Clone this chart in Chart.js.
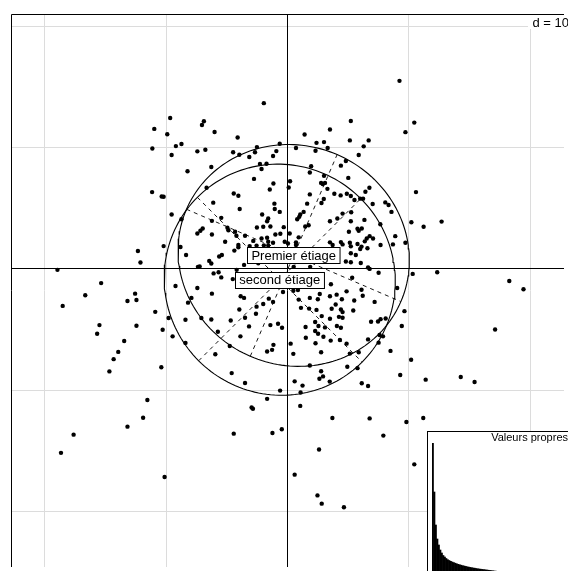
<!DOCTYPE html>
<html>
<head>
<meta charset="utf-8">
<title>Analyse inter-classes : étiages</title>
<script src="https://cdn.jsdelivr.net/npm/chart.js@4.4.1/dist/chart.umd.min.js"></script>
<style>
  html, body { margin: 0; padding: 0; background: #fff; overflow: hidden; }
  #wrap { position: relative; width: 568px; height: 571px; overflow: hidden; }
  #main { position: absolute; left: 0; top: 0; }
  #eig { position: absolute; left: 427px; top: 431px; }
</style>
</head>
<body>
<div id="wrap">
  <canvas id="main" width="568" height="571"></canvas>
  <canvas id="eig" width="145" height="148"></canvas>
</div>
<script>
// row scores on the first factorial plane
const scoreX = [
  -1.91, -9.63, -6.85, -7.01, -10.94, -5.97, -9.87, -4.07, -8.70, -9.16,
  -11.10, -7.39, -6.73, -9.51, -4.44, -3.93, -3.11, -2.64, -2.48, -0.88,
  -1.15, -0.60, -2.23, -2.10, -1.69, -8.20, -6.24, -2.72, -1.12, -1.42,
  -6.63, -11.12, -10.33, -10.17, -4.39, -4.01, -1.04, -1.01, -0.60, -6.08,
  -3.90, -9.51, -8.70, -5.42, -6.19, -2.05, -1.55, -1.64, -2.48, -1.96,
  -1.37, -0.27, -4.91, -4.83, -6.95, -7.39, -7.14, -6.19, -4.28, -4.17,
  -3.46, -2.10, -1.64, -1.55, -0.96, -0.55, -4.01, -4.01, -3.08, -2.51,
  -1.91, -1.55, -10.17, -8.78, -4.34, -12.29, -12.08, -8.32, -5.37, -5.59,
  -6.41, -6.24, -7.34, -7.20, -3.54, -18.92, -15.32, -5.64, -6.05, -5.42,
  -9.19, -7.39, -4.47, -0.19, -5.10, -2.78, -1.15, -2.37,
  9.27, 5.26, 10.49, 9.76, 3.54, 1.45, 5.18, 6.73, 6.32, 2.43,
  3.05, 3.35, 0.74, 2.35, 5.91, 4.85, 4.44, 1.99, 1.88, 5.05,
  0.25, 0.14, 3.05, 3.13, 2.81, 2.94, 3.33, 6.79, 6.46, 10.63,
  1.88, 3.90, 4.42, 4.93, 5.26, 5.56, 6.03, 6.27, 3.03, 2.84,
  1.66, 7.06, 8.10, 8.37, 8.61, 1.37, 1.09, 1.01, 0.84, 5.29,
  4.58, 4.15, 3.54, 5.26, 6.38, 7.69, 10.25, 11.26, 12.74, 1.78,
  1.50, 0.22, 5.81, 6.16, 5.91, 5.10, 8.92, 0.96, 0.74, 0.74,
  6.81, 7.09, 6.57, 6.41, 3.54, 3.76, 4.44, 4.58, 5.18, 5.26,
  5.81, 6.14, 6.03, 6.63, 7.71, 8.73, 9.76, 4.85, 5.26, 6.08,
  6.68, 6.81, 7.55, 10.36, 12.38, 18.32, 3.62, 5.37, 1.91, 0.55,
  5.26, 5.67, 0.08,
  -16.63, -18.49, -12.52, -13.15, -12.41, -6.19, -8.16, -7.88, -10.86, -9.76,
  -15.46, -15.65, -12.41, -10.25, -9.43, -8.37, -7.06, -6.24, -8.37, -5.70,
  -5.91, -13.42, -13.91, -14.29, -14.64, -10.36, -4.72, -4.64, -3.46, -3.13,
  -3.84, -4.56, -3.46, -3.82, -3.54, -3.93, -2.51, -1.96, -1.50, -1.15,
  -0.33, -2.56, -1.37, -0.74, -0.41, -1.64, -1.23, -1.12, -0.57, -1.64,
  -2.92, -2.81, -4.39, -1.20, -0.43, -11.51, -11.86, -13.15, -17.59, -18.63,
  -10.09, -4.15,
  19.49, 17.15, 6.14, 6.24, 7.22, 9.08, 9.68, 9.46, 0.52, 0.90,
  0.96, 1.15, 2.70, 1.88, 2.54, 1.82, 2.43, 3.54, 4.09, 4.52,
  4.91, 5.54, 3.68, 4.01, 4.44, 5.46, 2.86, 3.54, 4.28, 4.58,
  4.58, 6.93, 7.50, 7.71, 8.13, 1.53, 2.32, 2.59, 3.13, 2.32,
  2.56, 4.11, 4.44, 0.30, 0.52, 1.55, 2.35, 2.81, 3.60, 4.36,
  4.91, 3.00, 6.68, 7.63, 7.91, 7.55, 8.53, 10.23, 5.91, 5.18,
  4.97, 5.81, 2.81, 2.67, 2.97, 3.52, 0.63, 1.28, 1.12, 6.16,
  6.68, 9.33, 11.43, 14.32, 15.46, 1.09, 3.74, 6.81, 9.84, 11.23,
  7.94, 2.64, 0.63, 10.49, 2.51, 2.86, 4.69, 1.88
];
const scoreY = [
  13.60, 12.38, 12.11, 11.80, 11.48, 11.23, 11.04, 10.77, 10.23, 10.06,
  9.87, 9.63, 9.76, 9.33, 9.55, 9.35, 9.16, 9.55, 9.98, 9.65,
  9.24, 10.25, 8.59, 8.18, 8.61, 7.99, 8.34, 7.36, 6.98, 6.49,
  6.63, 6.27, 5.91, 5.89, 6.16, 5.97, 5.32, 4.88, 4.64, 5.40,
  4.88, 4.42, 4.03, 4.15, 3.90, 4.42, 4.09, 3.87, 3.35, 3.41,
  3.44, 3.38, 3.33, 3.13, 3.27, 2.86, 3.08, 2.78, 3.00, 2.67,
  2.67, 2.45, 2.51, 2.18, 2.78, 2.84, 1.91, 1.72, 1.82, 1.86,
  1.88, 1.86, 1.82, 1.74, 1.45, 1.42, 0.47, 1.09, 1.09, 0.96,
  0.60, 0.38, 0.11, 0.14, 0.27, -0.14, -1.23, -0.33, -0.43, -0.76,
  -1.47, -1.64, -0.90, 2.18, 2.18, 2.25, 2.10, 0.41,
  15.44, 12.13, 12.00, 11.21, 11.43, 11.02, 10.53, 10.53, 10.04, 10.33,
  10.39, 9.90, 9.90, 9.68, 9.33, 8.83, 8.45, 8.40, 7.88, 7.44,
  7.17, 6.65, 7.61, 7.03, 7.03, 6.93, 6.54, 6.63, 6.30, 6.27,
  6.08, 6.14, 6.00, 6.14, 5.95, 5.62, 5.73, 5.73, 5.70, 5.37,
  5.32, 5.29, 5.42, 5.21, 4.64, 4.64, 4.42, 4.23, 4.03, 4.61,
  4.50, 4.09, 3.87, 3.87, 3.98, 3.62, 3.79, 3.41, 3.84, 3.54,
  3.44, 2.86, 3.25, 3.27, 3.08, 3.00, 2.64, 2.54, 2.13, 1.91,
  2.64, 2.45, 2.45, 2.21, 2.13, 1.91, 2.15, 1.96, 2.10, 1.80,
  1.99, 1.78, 1.58, 1.64, 1.91, 1.96, 2.10, 0.55, 0.49, 0.43,
  0.06, -0.06, -0.38, -0.47, -0.33, -1.06, -1.33, -0.79, 0.11, 0.11,
  1.23, 1.09, 2.04,
  -2.23, -3.11, -2.10, -2.70, -2.62, -2.10, -2.84, -2.45, -3.60, -4.11,
  -4.69, -5.40, -4.74, -5.07, -5.62, -4.25, -4.11, -4.23, -6.16, -5.24,
  -7.09, -6.00, -6.90, -7.50, -8.51, -8.16, -6.41, -4.31, -4.09, -4.80,
  -5.62, -8.65, -9.47, -2.32, -2.45, -3.41, -3.17, -2.95, -2.51, -2.78,
  -1.96, -3.76, -4.69, -4.58, -4.91, -6.87, -6.73, -6.32, -10.09, -10.77,
  -11.48, -11.59, -13.64, -13.58, -13.28, -10.86, -12.33, -13.06, -13.72, -15.22,
  -17.21, -0.14,
  -1.74, -5.05, -1.78, -2.27, -2.78, -1.64, -3.54, -4.77, -1.86, -1.80,
  -2.59, -3.27, -2.13, -2.45, -2.56, -3.33, -3.44, -2.32, -2.18, -2.56,
  -1.91, -2.67, -3.35, -3.00, -3.41, -3.49, -3.95, -4.17, -4.01, -3.62,
  -4.09, -4.42, -4.39, -4.20, -4.15, -4.85, -4.44, -4.77, -4.88, -5.18,
  -5.40, -4.77, -4.91, -6.22, -7.06, -5.73, -6.19, -6.93, -5.97, -5.92,
  -6.22, -5.65, -5.87, -5.51, -5.62, -6.14, -6.82, -7.55, -6.93, -7.04,
  -8.12, -8.24, -8.49, -9.11, -8.92, -9.35, -9.33, -9.68, -10.25, -9.49,
  -9.71, -8.81, -9.19, -8.97, -9.38, -11.35, -12.35, -12.38, -12.68, -12.35,
  -13.80, -14.95, -17.02, -16.17, -18.73, -19.41, -19.71, -8.02
];

// class centroids and their inertia ellipses
const classNames = ['Premier étiage', 'second étiage'];
const classCenterX = [0.55, -0.60];
const classCenterY = [1.05, -0.95];
const ellipseMajor = [9.62, 9.60];
const ellipseMinor = [9.05, 9.45];
const ellipseAngle = [-23.3, -45]; // degrees

// eigenvalues (screeplot inset)
const eigenValues = [
  132, 83, 50, 36, 30, 25, 22, 19.5, 18, 16.5,
  15.3, 14.5, 13.7, 13, 12.4, 11.8, 11.2, 10.7, 10.2, 9.8,
  9.3, 9.0, 8.6, 8.2, 7.9, 7.6, 7.3, 7.0, 6.8, 6.5,
  6.2, 6.0, 5.8, 5.6, 5.4, 5.2, 5.0, 4.8, 4.6, 4.4,
  4.2, 4.0, 3.85, 3.7, 3.55, 3.4, 3.3, 3.2, 3.1, 3.0,
  2.9, 2.8, 2.7, 2.6, 2.5, 2.4, 2.3, 2.2, 2.15, 2.1,
  2.0, 1.9, 1.85, 1.8, 1.7, 1.65, 1.6, 1.5, 1.45, 1.4,
  1.35, 1.3, 1.2, 1.15, 1.1, 1.05, 1.0, 0.95, 0.9, 0.85,
  0.8, 0.75, 0.7, 0.65, 0.6, 0.55, 0.5, 0.45, 0.4, 0.35
];

const gridStep = 10;
const gridTicks = [-20, -10, 0, 10, 20];
const xRange = [-22.75, 22.83];
const yRange = [-24.63, 20.95];

const FONT = '"Liberation Sans", Arial, Helvetica, sans-serif';
Chart.defaults.font.family = FONT;

function ellipsePoints(i) {
  const t = ellipseAngle[i] * Math.PI / 180;
  const pts = [];
  for (let k = 0; k <= 180; k++) {
    const a = k / 180 * 2 * Math.PI;
    const u = ellipseMajor[i] * Math.cos(a);
    const v = ellipseMinor[i] * Math.sin(a);
    pts.push({
      x: classCenterX[i] + u * Math.cos(t) - v * Math.sin(t),
      y: classCenterY[i] + u * Math.sin(t) + v * Math.cos(t)
    });
  }
  return pts;
}

// both principal axes of an ellipse, drawn as dashed segments
function ellipseAxes(i) {
  const t = ellipseAngle[i] * Math.PI / 180;
  const cx = classCenterX[i], cy = classCenterY[i];
  const a = ellipseMajor[i], b = ellipseMinor[i];
  return [
    [{ x: cx - a * Math.cos(t), y: cy - a * Math.sin(t) }, { x: cx + a * Math.cos(t), y: cy + a * Math.sin(t) }],
    [{ x: cx + b * Math.sin(t), y: cy - b * Math.cos(t) }, { x: cx - b * Math.sin(t), y: cy + b * Math.cos(t) }]
  ];
}

const datasets = [{
  type: 'scatter',
  data: scoreX.map((x, i) => ({ x: x, y: scoreY[i] })),
  pointRadius: 2.2,
  pointBackgroundColor: '#000',
  pointBorderWidth: 0
}];

classNames.forEach((name, i) => {
  datasets.push({
    type: 'scatter',
    data: ellipsePoints(i),
    showLine: true,
    borderColor: '#000',
    borderWidth: 1.1,
    pointRadius: 0
  });
  ellipseAxes(i).forEach(seg => {
    datasets.push({
      type: 'scatter',
      data: seg,
      showLine: true,
      borderColor: '#000',
      borderWidth: 0.9,
      borderDash: [4, 4],
      pointRadius: 0
    });
  });
});

const gridPlugin = {
  id: 'grid',
  beforeDatasetsDraw(chart) {
    const { ctx, chartArea: area, scales: { x, y } } = chart;
    ctx.save();
    ctx.lineWidth = 1;
    ctx.strokeStyle = '#dcdcdc';
    gridTicks.filter(v => v !== 0).forEach(v => {
      const px = Math.round(x.getPixelForValue(v)) + 0.5;
      const py = Math.round(y.getPixelForValue(v)) + 0.5;
      ctx.beginPath();
      ctx.moveTo(px, area.top); ctx.lineTo(px, area.bottom);
      ctx.moveTo(area.left, py); ctx.lineTo(area.right, py);
      ctx.stroke();
    });
    // axes through the origin
    ctx.strokeStyle = '#000';
    const x0 = Math.round(x.getPixelForValue(0)) + 0.5;
    const y0 = Math.round(y.getPixelForValue(0)) + 0.5;
    ctx.beginPath();
    ctx.moveTo(x0, area.top); ctx.lineTo(x0, area.bottom);
    ctx.moveTo(area.left, y0); ctx.lineTo(area.right, y0);
    ctx.stroke();
    ctx.restore();
  },
  afterDraw(chart) {
    const { ctx, chartArea: area, scales: { x, y } } = chart;
    ctx.save();
    // frame
    ctx.strokeStyle = '#000';
    ctx.lineWidth = 1;
    ctx.beginPath();
    ctx.moveTo(area.left + 0.5, area.bottom);
    ctx.lineTo(area.left + 0.5, area.top + 0.5);
    ctx.lineTo(area.right, area.top + 0.5);
    ctx.stroke();

    // class labels at the centroids
    ctx.font = '13px ' + FONT;
    ctx.textAlign = 'center';
    ctx.textBaseline = 'middle';
    classNames.forEach((name, i) => {
      const px = x.getPixelForValue(classCenterX[i]);
      const py = y.getPixelForValue(classCenterY[i]);
      const w = ctx.measureText(name).width + 8;
      const h = 16;
      const left = Math.round(px - w / 2) + 0.5;
      const top = Math.round(py - h / 2) + 0.5;
      ctx.fillStyle = '#fff';
      ctx.fillRect(left, top, w, h);
      ctx.strokeRect(left, top, w, h);
      ctx.fillStyle = '#000';
      ctx.fillText(name, px, py + 1);
    });

    // grid scale legend
    ctx.font = '13px ' + FONT;
    ctx.textAlign = 'left';
    ctx.fillStyle = '#fff';
    ctx.fillRect(528, area.top + 1, 60, 14);
    ctx.fillStyle = '#000';
    ctx.fillText('d = ' + gridStep, 532.5, area.top + 9);
    ctx.restore();
  }
};

new Chart(document.getElementById('main'), {
  type: 'scatter',
  data: { datasets: datasets },
  options: {
    responsive: false,
    animation: false,
    layout: { padding: { left: 11, top: 14, right: 0, bottom: 0 } },
    scales: {
      x: { type: 'linear', display: false, min: xRange[0], max: xRange[1] },
      y: { type: 'linear', display: false, min: yRange[0], max: yRange[1] }
    },
    plugins: { legend: { display: false }, tooltip: { enabled: false } }
  },
  plugins: [gridPlugin]
});

const insetPlugin = {
  id: 'insetFrame',
  beforeDraw(chart) {
    const { ctx, width, height } = chart;
    ctx.save();
    ctx.fillStyle = '#fff';
    ctx.fillRect(0, 0, width, height);
    ctx.strokeStyle = '#000';
    ctx.lineWidth = 1;
    ctx.strokeRect(0.5, 0.5, width, height);
    ctx.restore();
  },
  afterDraw(chart) {
    const { ctx } = chart;
    ctx.save();
    ctx.font = '11px ' + FONT;
    ctx.fillStyle = '#000';
    ctx.textAlign = 'right';
    ctx.textBaseline = 'middle';
    ctx.fillText('Valeurs propres', 141, 7);
    ctx.restore();
  }
};

new Chart(document.getElementById('eig'), {
  type: 'bar',
  data: {
    labels: eigenValues.map((v, i) => i + 1),
    datasets: [{
      data: eigenValues,
      backgroundColor: '#000',
      borderWidth: 0,
      barPercentage: 1,
      categoryPercentage: 1
    }]
  },
  options: {
    responsive: false,
    animation: false,
    layout: { padding: { left: 5, right: 5, top: 12, bottom: 4 } },
    scales: {
      x: { display: false },
      y: { display: false, min: 0, max: 132 }
    },
    plugins: { legend: { display: false }, tooltip: { enabled: false } }
  },
  plugins: [insetPlugin]
});
</script>
</body>
</html>
